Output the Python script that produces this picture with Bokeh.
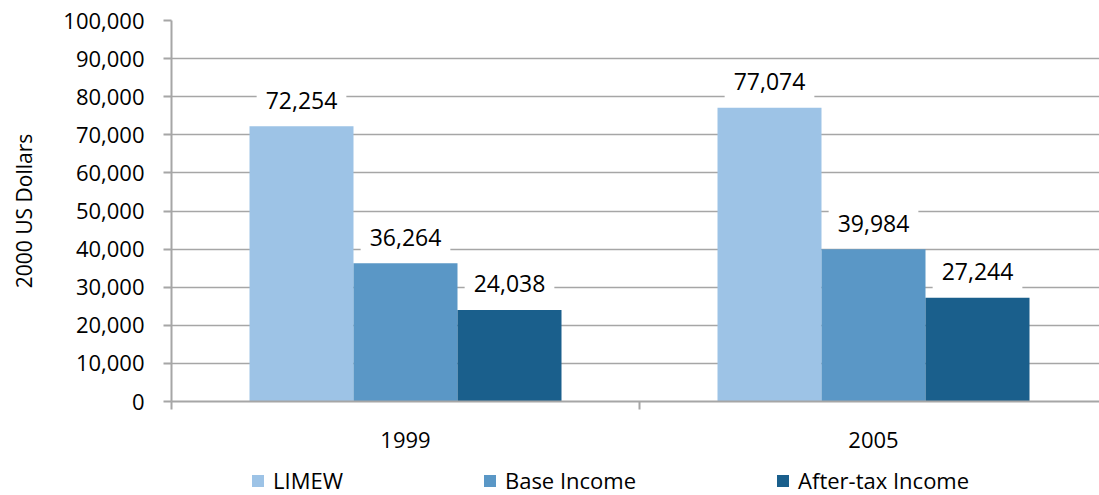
from bokeh.plotting import figure
from bokeh.layouts import column
from bokeh.models import Range1d, FixedTicker, NumeralTickFormatter, Legend, LegendItem, ColumnDataSource
from bokeh.core.properties import value
from bokeh.embed import file_html
from bokeh.resources import INLINE

years = ["1999", "2005"]
series = ["LIMEW", "Base Income", "After-tax Income"]
limew = [72254, 77074]
base_income = [36264, 39984]
after_tax = [24038, 27244]
colors = ["#9dc3e6", "#5a97c6", "#1a5f8c"]
y_ticks = [0, 10000, 20000, 30000, 40000, 50000, 60000, 70000, 80000, 90000, 100000]

FONT = "Open Sans"
GRID = "#a6a6a6"

p = figure(width=1099, height=460, output_backend="svg", toolbar_location=None,
           x_range=Range1d(0, 928 / 468), y_range=Range1d(0, 100000),
           min_border_left=171, min_border_right=0, min_border_top=20, min_border_bottom=59)
p.outline_line_color = None
p.background_fill_color = "white"
p.border_fill_color = "white"

bar_w = 2 / 9
offsets = [-bar_w, 0, bar_w]
for vals, off, col in zip([limew, base_income, after_tax], offsets, colors):
    xs = [i + 0.5 + off for i in range(len(years))]
    src = ColumnDataSource(dict(x=xs, top=vals, label=[f"{v:,}" for v in vals]))
    p.vbar(x="x", top="top", bottom=0, width=bar_w, source=src, fill_color=col, line_color=None)
    p.text(x="x", y="top", text="label", source=src, text_align="center", text_baseline="middle",
           y_offset=-26, text_font=value(FONT), text_font_size="23px", text_color="black",
           background_fill_color="white", padding=9)

# axes
p.xaxis.ticker = FixedTicker(ticks=[i + 0.5 for i in range(len(years))],
                             minor_ticks=list(range(len(years) + 1)))
p.xaxis.major_label_overrides = {i + 0.5: y for i, y in enumerate(years)}
p.xaxis.major_tick_line_color = None
p.xaxis.minor_tick_line_color = GRID
p.xaxis.minor_tick_line_width = 2
p.xaxis.minor_tick_out = 8
p.xaxis.minor_tick_in = 0
p.xaxis.axis_line_color = GRID
p.xaxis.axis_line_width = 2
p.xaxis.major_label_text_font = FONT
p.xaxis.major_label_text_font_size = "22px"
p.xaxis.major_label_text_color = "black"
p.xaxis.major_label_standoff = 22

p.yaxis.ticker = FixedTicker(ticks=y_ticks)
p.yaxis.formatter = NumeralTickFormatter(format="0,0")
p.yaxis.axis_line_color = GRID
p.yaxis.axis_line_width = 2
p.yaxis.major_tick_line_color = GRID
p.yaxis.major_tick_line_width = 2
p.yaxis.major_tick_out = 8
p.yaxis.major_tick_in = 0
p.yaxis.minor_tick_line_color = None
p.yaxis.major_label_text_font = FONT
p.yaxis.major_label_text_font_size = "22px"
p.yaxis.major_label_text_color = "black"
p.yaxis.major_label_standoff = 19
p.yaxis.axis_label = "2000 US Dollars"
p.yaxis.axis_label_text_font = FONT
p.yaxis.axis_label_text_font_size = "21px"
p.yaxis.axis_label_text_font_style = "normal"
p.yaxis.axis_label_text_color = "black"
p.yaxis.axis_label_standoff = 22

p.xgrid.grid_line_color = None
p.ygrid.ticker = FixedTicker(ticks=y_ticks)
p.ygrid.grid_line_color = GRID
p.ygrid.grid_line_width = 1.5

# legend strip below the chart (proxy glyphs sit outside its visible range)
lg = figure(width=1099, height=35, output_backend="svg", toolbar_location=None,
            x_range=Range1d(0, 1), y_range=Range1d(0, 1), min_border=0)
lg.outline_line_color = None
lg.axis.visible = False
lg.grid.visible = False
leg_renderers = [lg.vbar(x=[-5], top=[-5], bottom=-6, width=0.1, fill_color=c, line_color=None)
                 for c in colors]
legend = Legend(items=[LegendItem(label=s, renderers=[r]) for s, r in zip(series, leg_renderers)],
                orientation="horizontal", location=(79, 0),
                glyph_width=15, glyph_height=15, label_standoff=8, spacing=139,
                padding=0, margin=0, border_line_color=None, background_fill_alpha=0,
                label_text_font=FONT, label_text_font_size="22px", label_text_color="black")
lg.add_layout(legend, "center")

layout = column(p, lg, spacing=0)
open("out.html", "w").write(file_html(layout, INLINE))
